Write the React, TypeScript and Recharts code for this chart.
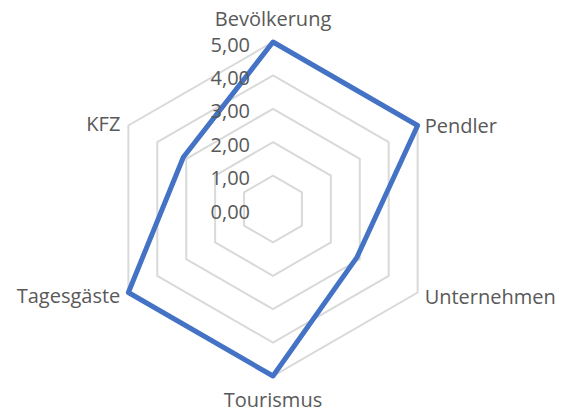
import React from "react";
import {
  RadarChart,
  Radar,
  PolarGrid,
  PolarAngleAxis,
  PolarRadiusAxis,
} from "recharts";

// categories clockwise from the top
const categories = [
  "Bevölkerung",
  "Pendler",
  "Unternehmen",
  "Tourismus",
  "Tagesgäste",
  "KFZ",
];
const values = [5.0, 5.0, 2.9, 5.0, 5.0, 3.1];
const radiusTicks = [0, 1, 2, 3, 4, 5];

const CX = 273;
const CY = 209;
const R = 167;
const FONT = "'Open Sans', 'Noto Sans', sans-serif";
const TEXT_COLOR = "#595959";

const data = categories.map((name, i) => ({ name, value: values[i] }));

// labels round the outside, placed the way Excel puts them
const AngleTick = (props: any) => {
  const { payload } = props;
  const angle = (payload.coordinate * Math.PI) / 180;
  const cos = Math.cos(angle);
  const sin = Math.sin(angle);
  let x = CX + R * cos;
  let y = CY - R * sin;
  let anchor: "start" | "middle" | "end" = "middle";
  if (Math.abs(cos) < 0.01) {
    y += sin > 0 ? -24 : 23;
  } else if (cos > 0) {
    anchor = "start";
    x += 7;
    y += sin > 0 ? 0 : 4;
  } else {
    anchor = "end";
    x -= 8;
    y += sin > 0 ? -2 : 3;
  }
  return (
    <text
      x={x}
      y={y}
      textAnchor={anchor}
      dominantBaseline="central"
      fill={TEXT_COLOR}
      fontSize={20}
      fontFamily={FONT}
    >
      {payload.value}
    </text>
  );
};

const RadiusTick = (props: any) => {
  const { x, y, payload } = props;
  return (
    <text
      x={x - 23}
      y={y + 2}
      textAnchor="end"
      dominantBaseline="central"
      fill={TEXT_COLOR}
      fontSize={20}
      fontFamily={FONT}
    >
      {Number(payload.value).toFixed(2).replace(".", ",")}
    </text>
  );
};

export default function App() {
  return (
    <div style={{ position: "absolute", left: 0, top: 0, background: "#fff" }}>
      <RadarChart
        width={575}
        height={413}
        data={data}
        cx={CX}
        cy={CY}
        outerRadius={R}
        startAngle={90}
        endAngle={-270}
      >
        <PolarGrid
          gridType="polygon"
          radialLines={false}
          stroke="#d9d9d9"
          strokeWidth={2}
        />
        <PolarAngleAxis
          dataKey="name"
          axisLine={false}
          tickLine={false}
          tick={<AngleTick />}
        />
        <Radar
          dataKey="value"
          stroke="#4472c4"
          strokeWidth={5}
          strokeLinejoin="round"
          fill="none"
          fillOpacity={0}
          dot={false}
          isAnimationActive={false}
        />
        <PolarRadiusAxis
          angle={90}
          domain={[0, 5]}
          ticks={radiusTicks}
          tickCount={6}
          axisLine={false}
          tickLine={false}
          tick={<RadiusTick />}
        />
      </RadarChart>
    </div>
  );
}
